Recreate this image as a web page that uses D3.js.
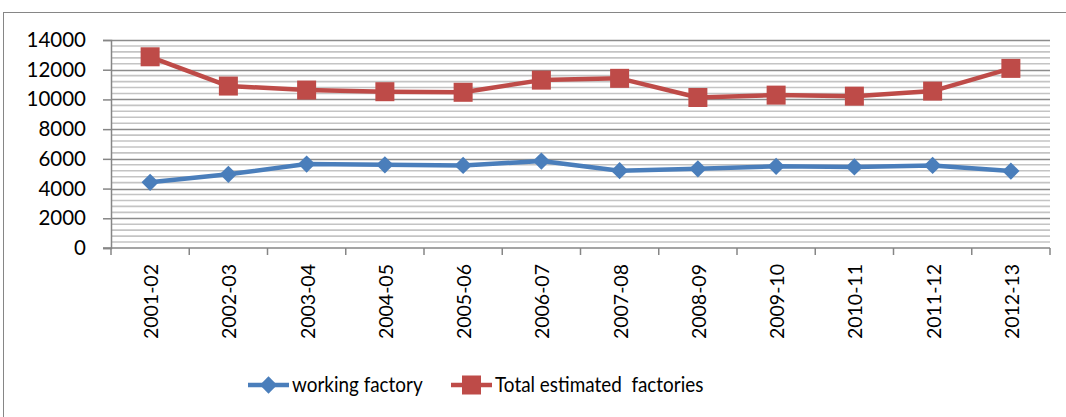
<!DOCTYPE html>
<html>
<head>
<meta charset="utf-8">
<script src="https://cdn.jsdelivr.net/npm/d3@7"></script>
<style>
  html, body { margin: 0; padding: 0; background: #fff; }
  svg { display: block; }
  text { font-family: Lato, "Liberation Sans", sans-serif; fill: #000; }
</style>
</head>
<body>
<script>
const categories = ["2001-02","2002-03","2003-04","2004-05","2005-06","2006-07","2007-08","2008-09","2009-10","2010-11","2011-12","2012-13"];
const workingFactory = [4420, 4960, 5650, 5600, 5560, 5850, 5200, 5330, 5500, 5460, 5560, 5180];
const totalEstimated = [12870, 10900, 10630, 10520, 10480, 11300, 11420, 10130, 10290, 10220, 10560, 12090];
const yTicks = [0, 2000, 4000, 6000, 8000, 10000, 12000, 14000];
const seriesNames = ["working factory", "Total estimated  factories"];

const W = 1066, H = 417;
const svg = d3.select("body").append("svg").attr("width", W).attr("height", H);

// chart border
svg.append("rect").attr("x", 3.5).attr("y", 12.5).attr("width", W + 10).attr("height", H + 10)
  .attr("fill", "#fff").attr("stroke", "#868686").attr("stroke-width", 1);

const plot = { left: 111, right: 1050, top: 40, bottom: 248 };
const x = d3.scaleBand().domain(categories).range([plot.left, plot.right]);
const y = d3.scaleLinear().domain([0, 14000]).range([plot.bottom, plot.top]);

// minor gridlines
const minor = d3.range(400, 14000, 400).filter(v => v % 2000 !== 0);
svg.append("g").selectAll("line").data(minor).join("line")
  .attr("x1", plot.left).attr("x2", plot.right)
  .attr("y1", d => y(d)).attr("y2", d => y(d))
  .attr("stroke", "#c4c4c4").attr("stroke-width", 1.6);

// major gridlines
svg.append("g").selectAll("line").data(yTicks.filter(v => v > 0)).join("line")
  .attr("x1", plot.left).attr("x2", plot.right)
  .attr("y1", d => Math.round(y(d)) + 0.5).attr("y2", d => Math.round(y(d)) + 0.5)
  .attr("stroke", "#8c8c8c").attr("stroke-width", 1.5);

// y axis
const yAxis = svg.append("g").attr("transform", `translate(${plot.left},0)`)
  .call(d3.axisLeft(y).tickValues(yTicks).tickSize(8).tickPadding(17).tickFormat(d3.format("d")));
yAxis.select(".domain").attr("stroke", "#868686").attr("stroke-width", 1.5);
yAxis.selectAll(".tick line").attr("stroke", "#868686").attr("stroke-width", 1.5);
yAxis.selectAll("text").style("font-size", "20.5px").style("font-family", "Lato, sans-serif").attr("fill", "#000");

// x axis
const xAxisG = svg.append("g").attr("transform", `translate(0,${plot.bottom})`);
xAxisG.append("line").attr("x1", plot.left - 8).attr("x2", plot.right)
  .attr("y1", 0).attr("y2", 0).attr("stroke", "#868686").attr("stroke-width", 1.5);
const bounds = categories.map(c => x(c)).concat([plot.right]);
xAxisG.selectAll("line.tk").data(bounds).join("line").attr("class", "tk")
  .attr("x1", d => d).attr("x2", d => d).attr("y1", 0).attr("y2", 7)
  .attr("stroke", "#868686").attr("stroke-width", 1.5);
xAxisG.selectAll("text").data(categories).join("text")
  .attr("transform", d => `translate(${x(d) + x.bandwidth() / 2 + 1},16) rotate(-90)`)
  .attr("text-anchor", "end").attr("dy", "0.36em")
  .style("font-size", "19.5px").text(d => d);

// lines
const colors = ["#4a7ebb", "#be4b48"];
const series = [workingFactory, totalEstimated];
const cx = i => x(categories[i]) + x.bandwidth() / 2;
const line = d3.line().x((d, i) => cx(i)).y(d => y(d));

series.forEach((s, k) => {
  svg.append("path").datum(s).attr("d", line)
    .attr("fill", "none").attr("stroke", colors[k]).attr("stroke-width", 4.5)
    .attr("stroke-linejoin", "round");
});

// markers
const diamond = d3.symbol().type(d3.symbolDiamond2).size(190);
svg.append("g").selectAll("path").data(workingFactory).join("path")
  .attr("d", diamond)
  .attr("transform", (d, i) => `translate(${cx(i)},${y(d)})`)
  .attr("fill", colors[0]);
svg.append("g").selectAll("rect").data(totalEstimated).join("rect")
  .attr("x", (d, i) => cx(i) - 9.5).attr("y", d => y(d) - 9.5)
  .attr("width", 19).attr("height", 19).attr("fill", colors[1]);

// legend
const leg = svg.append("g");
const ly = 385;
const legItems = [
  { x0: 248, x1: 289, tx: 292 },
  { x0: 451, x1: 492, tx: 495 }
];
legItems.forEach((it, k) => {
  leg.append("line").attr("x1", it.x0).attr("x2", it.x1).attr("y1", ly).attr("y2", ly)
    .attr("stroke", colors[k]).attr("stroke-width", 4.5);
  const mx = (it.x0 + it.x1) / 2;
  if (k === 0) {
    leg.append("path").attr("d", diamond)
      .attr("transform", `translate(${mx},${ly})`).attr("fill", colors[0]);
  } else {
    leg.append("rect").attr("x", mx - 9.5).attr("y", ly - 9.5).attr("width", 19).attr("height", 19)
      .attr("fill", colors[1]);
  }
  leg.append("text").attr("transform", `translate(${it.tx},${ly}) scale(0.9,1)`)
    .attr("dy", "0.35em")
    .style("font-size", "21px").style("white-space", "pre").attr("xml:space", "preserve")
    .text(seriesNames[k]);
});
</script>
</body>
</html>
